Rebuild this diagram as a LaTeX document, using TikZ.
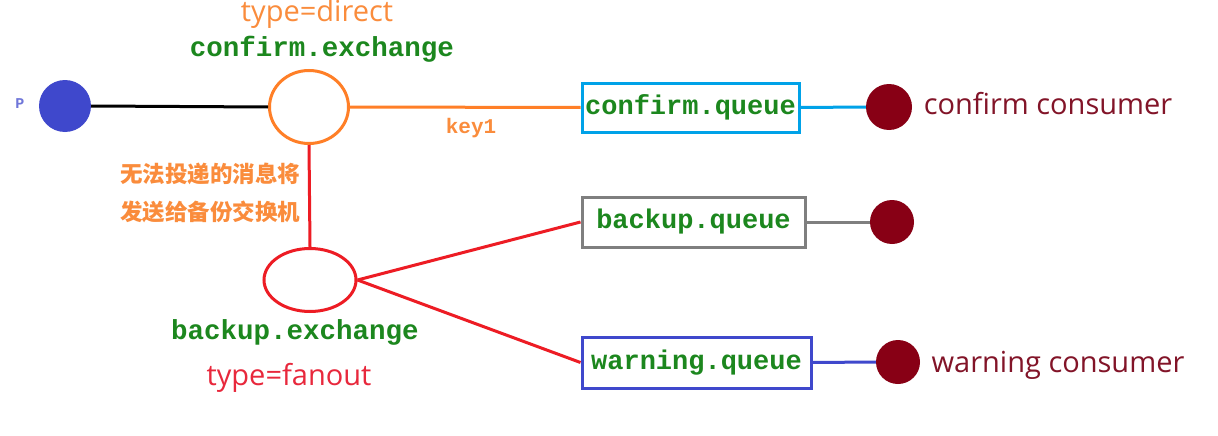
\documentclass[tikz,border=0pt]{standalone}
\usepackage{fontspec}
\setmainfont{Open Sans}
\newfontfamily\monob{Liberation Mono}
\newfontfamily\cjk{Noto Sans CJK SC}
\usetikzlibrary{shapes.geometric}
\definecolor{cgreen}{RGB}{28,135,30}
\definecolor{corange}{RGB}{255,127,39}
\definecolor{torange}{RGB}{250,140,60}
\definecolor{cred}{RGB}{237,28,36}
\definecolor{tred}{RGB}{232,40,60}
\definecolor{dred}{RGB}{136,0,21}
\definecolor{tdred}{RGB}{130,20,40}
\definecolor{cblue}{RGB}{0,162,232}
\definecolor{iblue}{RGB}{63,72,204}
\definecolor{cgray}{RGB}{127,127,127}
\tikzset{
  code/.style={font=\monob\bfseries\fontsize{27.5}{30}\selectfont, text=cgreen, inner sep=0pt},
  qbox/.style={draw, line width=3pt, minimum height=49pt, inner sep=0pt, font=\monob\bfseries\fontsize{27}{30}\selectfont, text=cgreen},
  cons/.style={circle, fill=dred, inner sep=0pt, minimum size=44pt},
  lbl/.style={font=\fontsize{29}{32}\selectfont, inner sep=0pt},
  cntext/.style={font=\cjk\bfseries\fontsize{22.5}{24}\selectfont, text=torange, inner sep=0pt},
  wire/.style={line width=3pt},
}
\begin{document}
\begin{tikzpicture}[x=1pt,y=-1pt]
\fill[white] (0,0) rectangle (1218,436);
\useasboundingbox (0,0) rectangle (1218,436);
% producer
\node[circle, fill=iblue, inner sep=0pt, minimum size=52pt] (p) at (65,106) {};
\node[font=\monob\bfseries\fontsize{15}{16}\selectfont, text=iblue!75, inner sep=0pt] (plab) at (20,104) {P};
% confirm exchange
\node[ellipse, draw=corange, line width=3pt, minimum width=79pt, minimum height=73pt] (cx) at (309,107) {};
\node[lbl, text=torange, anchor=base] (cxtype) at (317,22) {type=direct};
\node[code] (cxname) at (322,49) {confirm.exchange};
% confirm queue
\node[qbox, draw=cblue, minimum width=217pt] (cq) at (690.5,107.5) {confirm.queue};
\node[font=\monob\bfseries\fontsize{21}{24}\selectfont, text=torange, inner sep=0pt] (key) at (471,128) {key1};
\node[cons, minimum width=46pt] (cc) at (889,107) {};
\node[lbl, text=tdred] (cclab) at (1048,104) {confirm consumer};
% backup exchange
\node[ellipse, draw=cred, line width=3pt, minimum width=92pt, minimum height=63pt] (bx) at (310,280) {};
\node[code] (bxname) at (295,332) {backup.exchange};
\node[lbl, text=tred] (bxtype) at (289,378) {type=fanout};
\node[cntext] (cn1) at (210,174) {无法投递的消息将};
\node[cntext] (cn2) at (210,212) {发送给备份交换机};
% backup queue
\node[qbox, draw=cgray, minimum width=223pt, minimum height=50pt] (bq) at (693.5,222) {backup.queue};
\node[cons] (bc) at (892,222) {};
% warning queue
\node[qbox, draw=iblue, minimum width=229pt, minimum height=51pt] (wq) at (696.5,362.5) {warning.queue};
\node[cons] (wc) at (898,362) {};
\node[lbl, text=tdred] (wclab) at (1058,365) {warning consumer};
% connectors
\draw[wire, black] (p.east) -- (cx.west);
\draw[wire, corange] (cx.east) -- (cq.west);
\draw[wire, cblue] (cq.east) -- (cc.west);
\draw[wire, cred] (cx.south) -- (bx.north);
\draw[wire, cred] (bx.east) -- (bq.west);
\draw[wire, cred] (bx.east) -- (wq.west);
\draw[wire, cgray] (bq.east) -- (bc.west);
\draw[wire, iblue] (wq.east) -- (wc.west);
\end{tikzpicture}
\end{document}
